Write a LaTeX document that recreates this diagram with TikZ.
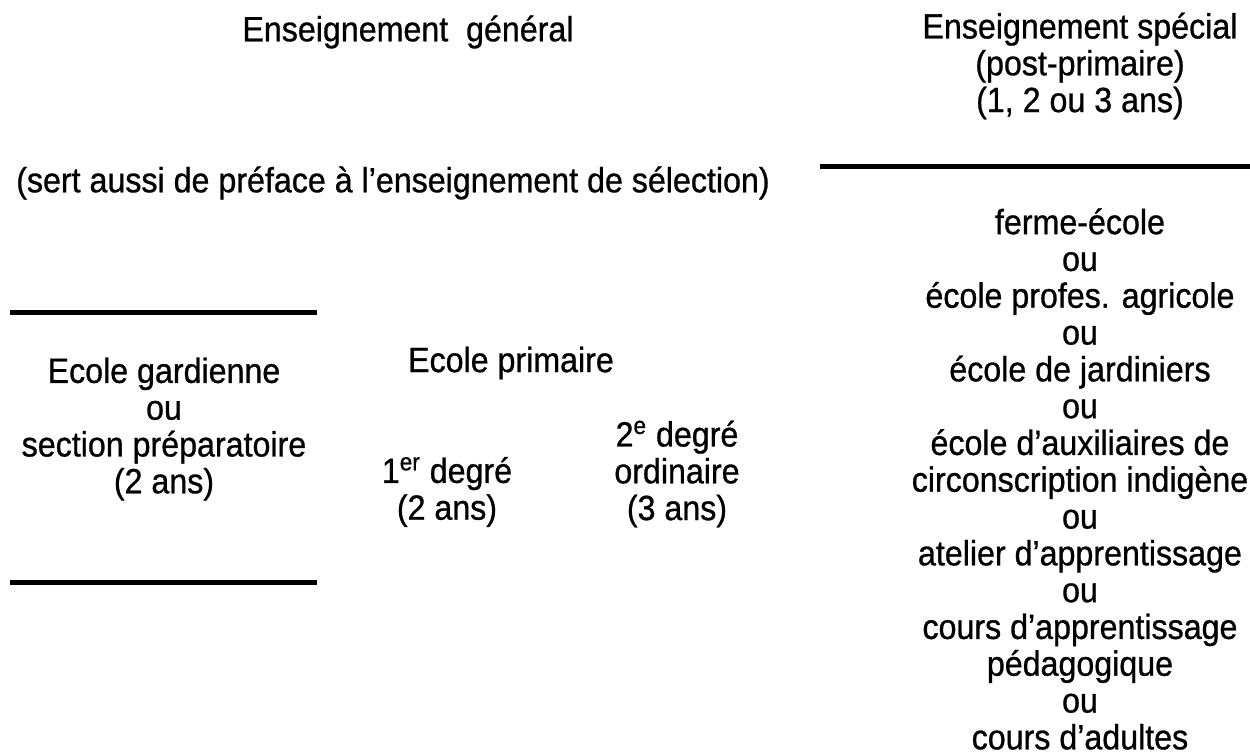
\documentclass[tikz,border=0pt]{standalone}
\usepackage{fontspec}
\setmainfont{Liberation Sans}[FakeStretch=0.92,FakeBold=0.8]
\begin{document}
\begin{tikzpicture}[x=0.5pt,y=-0.5pt,
  txt/.style={inner sep=0pt,align=center,font=\fontsize{17.5}{18.4}\selectfont},
  rule/.style={line width=2.5pt,line cap=butt}]
\useasboundingbox (0,0) rectangle (1250,756);
\node[txt] (gen) at (408,32) {Enseignement\ \ général};
\node[txt] (spec) at (1080,66) {Enseignement spécial\\(post-primaire)\\(1, 2 ou 3 ans)};
\node[txt] (sert) at (393,183) {(sert aussi de préface à l'enseignement de sélection)};
\coordinate (r1a) at (820,166); \coordinate (r1b) at (1250,166);
\draw[rule] (r1a) -- (r1b);
\coordinate (l1a) at (10,312); \coordinate (l1b) at (317,312);
\draw[rule] (l1a) -- (l1b);
\coordinate (l2a) at (10,582); \coordinate (l2b) at (317,582);
\draw[rule] (l2a) -- (l2b);
\node[txt] (gard) at (164,429) {Ecole gardienne\\ou\\section préparatoire\\(2 ans)};
\node[txt] (prim) at (511,363) {Ecole primaire};
\node[txt] (deg1) at (447,492) {1\textsuperscript{er} degré\\(2 ans)};
\node[txt] (deg2) at (677,474) {2\textsuperscript{e} degré\\ordinaire\\(3 ans)};
\node[txt] (liste) at (1080,479) {ferme-école\\ou\\école profes. agricole\\ou\\école de jardiniers\\ou\\école d'auxiliaires de\\circonscription indigène\\ou\\atelier d'apprentissage\\ou\\cours d'apprentissage\\pédagogique\\ou\\cours d'adultes};
\end{tikzpicture}
\end{document}
